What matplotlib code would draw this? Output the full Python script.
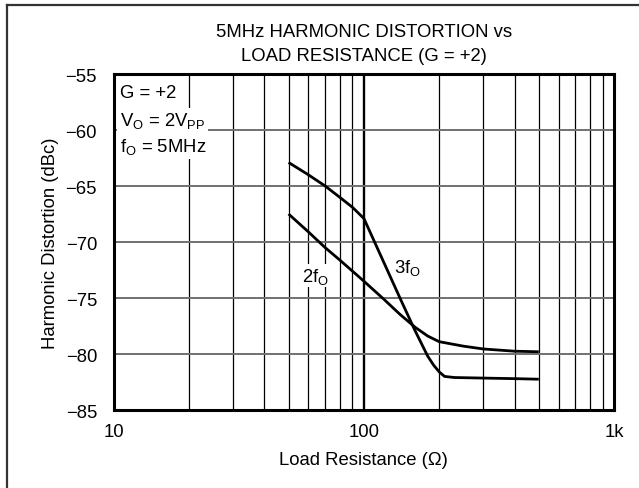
import numpy as np
import matplotlib
matplotlib.use("Agg")
import matplotlib.pyplot as plt
from matplotlib.lines import Line2D

plt.rcParams['font.family'] = ['Liberation Sans', 'DejaVu Sans']
plt.rcParams['mathtext.fontset'] = 'custom'
plt.rcParams['mathtext.rm'] = 'Liberation Sans'
plt.rcParams['mathtext.it'] = 'Liberation Sans'
plt.rcParams['font.size'] = 13.3

# load resistance (ohm) and distortion (dBc)
r_2f = [50, 60, 70, 80, 90, 100, 120, 140, 160, 180, 200, 250, 300, 400, 500]
hd_2f = [-67.5, -69.1, -70.5, -71.6, -72.6, -73.5, -75.1, -76.5, -77.6,
         -78.4, -78.9, -79.3, -79.55, -79.75, -79.8]

r_3f = [50, 60, 70, 80, 90, 100, 120, 140, 160, 180, 190, 200, 210, 230,
        300, 400, 500]
hd_3f = [-62.9, -64.0, -65.0, -66.0, -66.9, -67.9, -71.8, -75.1, -77.9,
         -80.2, -81.0, -81.6, -82.0, -82.1, -82.15, -82.2, -82.25]

yticks = [-55, -60, -65, -70, -75, -80, -85]
xticks = [10, 100, 1000]
xticklabels = ['10', '100', '1k']

fig = plt.figure(figsize=(6.39, 4.89), dpi=100)
ax = fig.add_axes([0.178, 0.1595, 0.783, 0.6871])

ax.set_xscale('log')
ax.set_xlim(10, 1000)
ax.set_ylim(-85, -55)

# grid
minor = [v * d for d in (10, 100) for v in range(2, 10)]
for x in minor:
    ax.axvline(x, color='black', lw=0.9, zorder=1)
ax.axvline(100, color='black', lw=1.7, zorder=1)
for y in yticks[1:-1]:
    ax.axhline(y, color='#707070', lw=1.4, zorder=1)

ax.plot(r_2f, hd_2f, color='black', lw=2.0, zorder=3, solid_capstyle='butt')
ax.plot(r_3f, hd_3f, color='black', lw=2.0, zorder=3, solid_capstyle='butt')

ax.set_xticks(xticks)
ax.set_xticklabels(xticklabels)
ax.xaxis.set_minor_locator(matplotlib.ticker.NullLocator())
ax.set_yticks(yticks)
ax.set_yticklabels([f'\u2212{abs(v)}' for v in yticks])
ax.tick_params(length=0, pad=12)
ax.tick_params(axis='x', pad=9)

for s in ax.spines.values():
    s.set_linewidth(2.2)
    s.set_zorder(5)

ax.set_xlabel('Load Resistance (\u03a9)', labelpad=8)
ax.set_ylabel('Harmonic Distortion (dBc)', labelpad=5)

fig.text(0.569, 0.934, '5MHz HARMONIC DISTORTION vs', ha='center', va='center')
fig.text(0.569, 0.885, 'LOAD RESISTANCE (G = +2)', ha='center', va='center')

box = dict(facecolor='white', edgecolor='none', pad=2)
ax.text(0.013, 0.945, 'G = +2', transform=ax.transAxes, va='center', ha='left',
        zorder=4, bbox=box)
ax.text(0.013, 0.862, r'V$_\mathregular{O}$ = 2V$_\mathregular{PP}$',
        transform=ax.transAxes, va='center', ha='left', zorder=4, bbox=box)
ax.text(0.013, 0.786, r'f$_\mathregular{O}$ = 5MHz', transform=ax.transAxes,
        va='center', ha='left', zorder=4, bbox=box)

ax.text(64, -73.0, r'2f$_\mathregular{O}$', ha='center', va='center', zorder=4,
        bbox=dict(facecolor='white', edgecolor='none', pad=1))
ax.text(150, -72.2, r'3f$_\mathregular{O}$', ha='center', va='center', zorder=4,
        bbox=dict(facecolor='white', edgecolor='none', pad=1))

# outer frame (top and left edges)
fig.add_artist(Line2D([0.011, 0.011], [0, 0.988], transform=fig.transFigure,
                      color='#333333', lw=1.6))
fig.add_artist(Line2D([0.011, 1.0], [0.988, 0.988], transform=fig.transFigure,
                      color='#333333', lw=1.6))

fig.savefig('out.png', dpi=100)
